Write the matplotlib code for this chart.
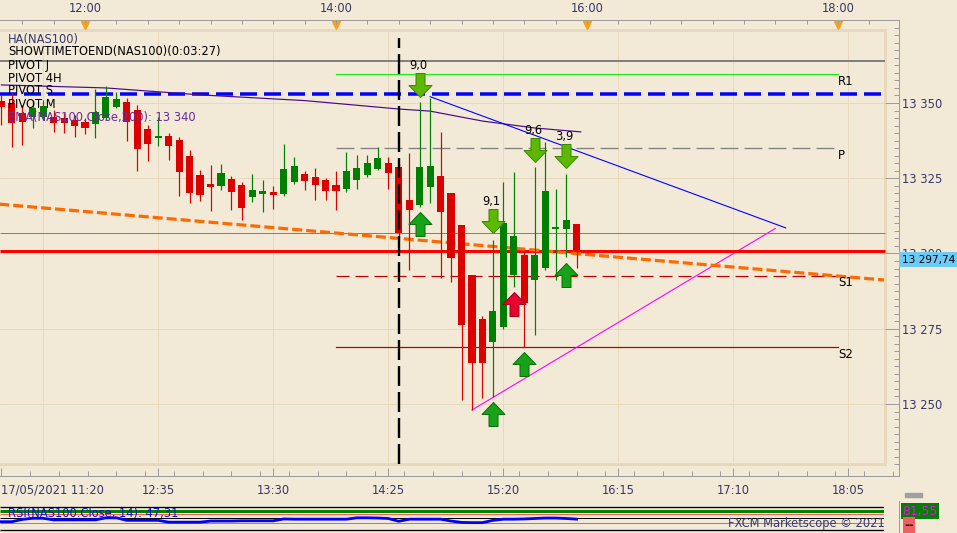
import numpy as np
import matplotlib.pyplot as plt
import matplotlib.transforms as mtransforms
from matplotlib.path import Path
from matplotlib.patches import Rectangle
from matplotlib.lines import Line2D

plt.rcParams['font.family'] = 'DejaVu Sans'
plt.rcParams['lines.scale_dashes'] = False

W, H, DPI = 957, 533, 100
BG = '#F2E9D6'
GRID = '#E8D8BC'
TXT = '#38386A'
FS = 8.3


def hm(s):
    h, m = s.split(':')
    return int(h) * 60 + int(m)


# ---- data (Heikin-Ashi 5 min bars, NAS100, 17/05/2021 from 11:20) ----
first_bar = '11:20'
ha_open = [13350.7, 13350.0, 13346.7, 13345.3, 13345.3, 13345.3, 13345.0, 13344.3, 13343.7, 13343.0,
           13345.0, 13348.7, 13350.3, 13347.7, 13341.3, 13338.4, 13339.0, 13337.7, 13332.4, 13326.1,
           13323.1, 13322.4, 13324.7, 13322.7, 13318.8, 13319.7, 13320.4, 13319.7, 13323.7, 13326.4,
           13325.4, 13324.4, 13322.7, 13321.4, 13324.4, 13326.1, 13328.1, 13330.0, 13328.7, 13317.8,
           13316.1, 13322.1, 13325.7, 13320.1, 13309.4, 13292.8, 13278.2, 13270.6, 13275.6, 13292.8,
           13299.5, 13291.2, 13295.2, 13308.1, 13308.1, 13309.8]
ha_close = [13348.7, 13343.3, 13343.7, 13348.3, 13349.0, 13343.3, 13343.3, 13342.3, 13341.7, 13347.0,
            13352.0, 13351.3, 13343.7, 13334.7, 13336.4, 13339.0, 13335.7, 13327.1, 13320.1, 13319.4,
            13322.1, 13326.7, 13320.4, 13315.1, 13321.1, 13320.7, 13319.4, 13328.1, 13329.1, 13324.1,
            13322.7, 13320.7, 13320.7, 13327.4, 13328.4, 13330.0, 13331.7, 13326.7, 13306.8, 13314.4,
            13328.7, 13329.1, 13313.8, 13298.5, 13276.2, 13263.6, 13263.6, 13280.9, 13310.1, 13305.8,
            13283.5, 13299.5, 13320.7, 13308.8, 13311.1, 13301.1]
ha_high = [13352.6, 13353.3, 13349.3, 13351.0, 13351.0, 13347.7, 13346.7, 13346.0, 13345.0, 13354.6,
           13355.6, 13353.6, 13351.6, 13349.3, 13342.7, 13345.3, 13340.0, 13338.7, 13334.4, 13327.7,
           13329.4, 13329.7, 13325.7, 13323.7, 13326.4, 13324.4, 13322.4, 13336.4, 13332.0, 13327.4,
           13328.4, 13325.1, 13327.4, 13333.7, 13332.7, 13332.7, 13335.4, 13332.0, 13330.0, 13333.4,
           13350.3, 13351.6, 13340.3, 13320.1, 13309.4, 13292.8, 13279.2, 13304.5, 13323.7, 13327.1,
           13301.1, 13328.7, 13337.0, 13321.4, 13326.4, 13309.8]
ha_low = [13342.7, 13335.4, 13336.0, 13341.7, 13344.3, 13340.3, 13340.0, 13338.7, 13339.7, 13338.4,
          13344.3, 13348.3, 13337.4, 13327.4, 13330.7, 13335.7, 13331.0, 13319.1, 13316.8, 13317.4,
          13314.1, 13321.1, 13314.4, 13311.1, 13317.1, 13313.8, 13314.8, 13319.1, 13323.1, 13321.1,
          13317.8, 13317.8, 13314.4, 13320.4, 13321.4, 13325.4, 13327.7, 13321.4, 13304.5, 13294.5,
          13315.4, 13316.8, 13291.8, 13290.5, 13251.3, 13248.0, 13252.0, 13252.3, 13275.0, 13288.9,
          13268.9, 13272.9, 13294.5, 13291.2, 13298.8, 13295.2]
rsi = [36, 36, 46, 51, 51, 44, 44, 44, 44, 44, 53, 53, 42, 42, 42, 42, 34, 34, 34, 34,
       39, 39, 39, 40, 40, 40, 40, 48, 47, 47, 47, 47, 47, 47, 53, 53, 52, 50, 38, 47,
       47, 47, 47, 39, 33, 32, 32, 42, 47, 47, 48, 50, 52, 52, 50, 47.31]

# EMA 200 sampled at some bars
ema_times = ['11:20', '12:00', '12:10', '12:55', '13:45', '14:30', '14:45', '15:10', '15:35', '15:57']
ema_vals = [13356.0, 13355.2, 13355.0, 13352.7, 13350.8, 13348.0, 13347.3, 13344.0, 13341.7, 13340.4]

# horizontal levels
level_gray_top = 13364.0
level_blue = 13353.0
level_gray_mid = 13306.9
level_red = 13300.8
pivots = {'R1': 13359.6, 'P': 13335.0, 'S1': 13292.6, 'S2': 13268.8}
pivot_span = ('14:00', '18:00')

# trend lines (time, price)
orange_line = (['11:19', '18:22'], [13316.4, 13291.2])
blue_line = (['14:45', '17:35'], [13352.1, 13308.5])
pink_line = (['15:05', '17:30'], [13248.0, 13308.3])
vline_time = '14:30'

# signal arrows
down_times = ['14:40', '15:35', '15:50', '15:15']
down_prices = [13352.0, 13330.4, 13328.4, 13306.8]
down_labels = ['9,0', '9,6', '3,9', '9,1']
up_times = ['14:40', '15:50', '15:30', '15:15']
up_prices = [13313.9, 13296.9, 13267.2, 13250.6]
red_up_times = ['15:25']
red_up_prices = [13287.1]

last_price = '13 297,74'
bottom_labels = ['11:20', '12:35', '13:30', '14:25', '15:20', '16:15', '17:10', '18:05']
top_labels = ['12:00', '14:00', '16:00', '18:00']
legend_lines = [('HA(NAS100)', TXT), ('SHOWTIMETOEND(NAS100)(0:03:27)', 'black'),
                ('PIVOT J', 'black'), ('PIVOT 4H', 'black'), ('PIVOT S', 'black'),
                ('PIVOT M', 'black'), ('EMA(NAS100.Close,200): 13 340', '#6A2C9E')]

# ---- layout helpers ----
X0, X1 = 679.36, 1109.16          # minutes at pixel x 0 and 899
Y0, Y1 = 13226.08, 13377.57       # price at pixel y 476 and 20
XIN = 1102.47                     # inner plot right edge
YIN0, YIN1 = 13230.07, 13374.25   # inner plot bottom/top
PX = 0.72                         # points per pixel


def rect(x0, y0, x1, y1):
    return [x0 / W, 1 - y1 / H, (x1 - x0) / W, (y1 - y0) / H]


def fx(x):
    return x / W


def fy(y):
    return 1 - y / H


times = hm(first_bar) + 5 * np.arange(len(ha_open))
o = np.array(ha_open); c = np.array(ha_close)
hi = np.array(ha_high); lo = np.array(ha_low)

fig = plt.figure(figsize=(W / DPI, H / DPI), dpi=DPI, facecolor=BG)
ax = fig.add_axes(rect(0, 20, 899, 476), facecolor=BG)
ax.set_xlim(X0, X1)
ax.set_ylim(Y0, Y1)

# grid
grid_t = [hm('11:40')] + [hm(t) for t in bottom_labels[1:]]
ax.vlines(grid_t, YIN0, YIN1, color=GRID, lw=1 * PX, zorder=0.5)
ax.hlines(np.arange(13250, 13351, 25), X0, XIN, color=GRID, lw=1 * PX, zorder=0.5)
ax.add_patch(Rectangle((X0 - 5, YIN0), XIN - X0 + 5, YIN1 - YIN0, fill=False,
                       ec='#E9D9BC', lw=3 * PX, zorder=0.6))

# horizontal levels
ax.hlines(level_gray_top, X0, XIN, color='#808080', lw=2 * PX, zorder=2)
ax.hlines(level_gray_mid, X0, XIN, color='#808080', lw=1 * PX, zorder=2)
ax.hlines(level_red, X0, XIN, color='#FF0000', lw=3 * PX, zorder=2.5)
ax.add_line(Line2D([X0, XIN], [level_blue] * 2, color='#0000FF', lw=3.5 * PX,
                   dashes=(17 * PX, 7 * PX), zorder=2))

p0, p1 = hm(pivot_span[0]), hm(pivot_span[1])
ax.add_line(Line2D([p0, p1], [pivots['R1']] * 2, color='#1EEB1E', lw=1.2 * PX, zorder=2))
ax.add_line(Line2D([p0, p1], [pivots['P']] * 2, color='#808080', lw=1.3 * PX,
                   dashes=(18 * PX, 6 * PX), zorder=2))
ax.add_line(Line2D([p0, p1], [pivots['S1']] * 2, color='#C00000', lw=1.2 * PX,
                   dashes=(13 * PX, 6 * PX), zorder=2))
ax.add_line(Line2D([p0, p1], [pivots['S2']] * 2, color='#B40000', lw=1.2 * PX, zorder=2))
for name, val in pivots.items():
    ax.annotate(name, (p1, val), xytext=(0, -5), textcoords='offset points',
                fontsize=8.5, color='black', ha='left', va='center')

# orange dashed line, EMA, trend lines
ax.add_line(Line2D([hm(t) for t in orange_line[0]], orange_line[1], color='#FF6A00',
                   lw=3.2 * PX, dashes=(10 * PX, 4 * PX), zorder=2.6))
ax.plot([hm(t) for t in ema_times], ema_vals, color='#4B0C8C', lw=1.2 * PX, zorder=2.4)
ax.plot([hm(t) for t in blue_line[0]], blue_line[1], color='#0000FF', lw=1.1 * PX, zorder=2.4)
ax.plot([hm(t) for t in pink_line[0]], pink_line[1], color='#FF00FF', lw=1.1 * PX, zorder=2.4)

# candles
col = np.where(c >= o, '#008000', '#DD0000')
ax.vlines(times, lo, hi, colors=col, lw=1.2 * PX, zorder=3)
ax.bar(times, np.maximum(np.abs(c - o), 0.6), bottom=np.minimum(o, c), width=3.4,
       color=col, linewidth=0, zorder=4)

# vertical dashed line
ax.add_line(Line2D([hm(vline_time)] * 2, [YIN0, 13371.6], color='black', lw=2.4 * PX,
                   dashes=(20 * PX, 6 * PX), zorder=5))

# arrows
arrow_down = Path([(-4.5, 24), (4.5, 24), (4.5, 12), (11.5, 12), (0, 0),
                   (-11.5, 12), (-4.5, 12), (-4.5, 24)], closed=True)
arrow_up = Path([(-4.5, -24), (4.5, -24), (4.5, -12), (11.5, -12), (0, 0),
                 (-11.5, -12), (-4.5, -12), (-4.5, -24)], closed=True)
ms = 2 * 24 * PX
ax.plot([hm(t) for t in down_times], down_prices, ls='none', marker=arrow_down, ms=ms,
        mfc='#5CB800', mec='#3A8A00', mew=1 * PX, zorder=6)
ax.plot([hm(t) for t in up_times], up_prices, ls='none', marker=arrow_up, ms=ms,
        mfc='#17A317', mec='#0B700B', mew=1 * PX, zorder=6)
ax.plot([hm(t) for t in red_up_times], red_up_prices, ls='none', marker=arrow_up, ms=ms,
        mfc='#E8002E', mec='#A8001E', mew=1 * PX, zorder=6)
for t, p, lab in zip(down_times, down_prices, down_labels):
    ax.annotate(lab, (hm(t), p), xytext=(-1, 22.5), textcoords='offset points',
                fontsize=FS, color='black', ha='center', va='center', zorder=7)

# axes frame / ticks
for s in ['top', 'right', 'bottom']:
    ax.spines[s].set_color('#9C9C9C')
    ax.spines[s].set_linewidth(1 * PX)
ax.spines['left'].set_visible(False)

ax.yaxis.tick_right()
ax.set_yticks(np.arange(13250, 13351, 25))
ax.set_yticks(np.arange(13230, 13377, 2.5), minor=True)
ax.set_yticklabels([f'{int(v):,}'.replace(',', ' ') for v in np.arange(13250, 13351, 25)])
ax.tick_params(axis='y', which='major', direction='in', length=14 * PX, width=1 * PX,
               color='#9C9C9C', labelsize=FS, labelcolor=TXT, pad=2.5)
ax.tick_params(axis='y', which='minor', direction='in', length=5 * PX, width=1 * PX,
               color='#9C9C9C')

bt = [hm(t) for t in bottom_labels]
ax.set_xticks(bt)
ax.set_xticklabels(['17/05/2021 ' + bottom_labels[0]] + bottom_labels[1:])
ax.set_xticks(np.arange(bt[0], X1, 13.75), minor=True)
ax.tick_params(axis='x', which='major', direction='in', length=8 * PX, width=1 * PX,
               color='#9C9C9C', labelsize=FS, labelcolor=TXT, pad=5.5)
ax.tick_params(axis='x', which='minor', direction='in', length=5 * PX, width=1 * PX,
               color='#9C9C9C')
ax.get_xticklabels()[0].set_ha('left')

axt = ax.twiny()
axt.set_xlim(X0, X1)
tt = [hm(t) for t in top_labels]
axt.set_xticks(tt)
axt.set_xticklabels(top_labels)
axt.set_xticks(np.arange(hm('11:30'), X1, 15), minor=True)
axt.tick_params(axis='x', which='both', direction='in', length=4 * PX, width=1 * PX,
                color='#9C9C9C', labelsize=FS, labelcolor=TXT, pad=3.5)
for s in axt.spines.values():
    s.set_visible(False)
tri_tr = mtransforms.blended_transform_factory(ax.transData, ax.transAxes)
ax.plot(tt, [1 - 4.5 / 456] * len(tt), ls='none', marker='v', ms=6, color='#F7A21B',
        transform=tri_tr, clip_on=False, zorder=8)

# legend text
for k, (txt, colr) in enumerate(legend_lines):
    fig.text(fx(8), fy(39 + 13 * k), txt, fontsize=FS, color=colr, va='center', ha='left',
             zorder=9)

# last price tag
fig.text(fx(901.5), fy(259.5), last_price, fontsize=7.6, color='black', va='center',
         ha='left', bbox=dict(boxstyle='square,pad=0.2', fc='#6CCBF7', ec='none'), zorder=10)

# ---- RSI panel ----
axr = fig.add_axes(rect(0, 501, 884, 533), facecolor=BG)
axr.set_xlim(X0, XIN - 0.5)
axr.set_ylim(-13.0, 126.0)
axr.axis('off')
axr.hlines([100, 0], X0, XIN, color='black', lw=1.3 * PX)
axr.hlines(50, X0, XIN, color='black', lw=1 * PX)
axr.hlines([70, 30], X0, XIN, color='#FF5A5A', lw=1 * PX)
axr.hlines(81.55, X0, XIN, color='#008000', lw=3 * PX)
axr.plot(times, rsi, color='#0000FF', lw=2.8 * PX, zorder=3)
fig.text(fx(8), fy(513), 'RSI(NAS100.Close, 14): 47,31', fontsize=FS, color='#1010D0',
         va='center', ha='left')
fig.text(fx(728), fy(524), 'FXCM Marketscope \u00a9 2021', fontsize=FS, color=TXT,
         va='center', ha='left')
fig.add_artist(Line2D([fx(899), fx(899)], [fy(501), fy(533)], color='#9C9C9C', lw=1 * PX))
fig.add_artist(Rectangle((fx(905), fy(497)), 17 / W, 4 / H, color='#A0A0A0'))
fig.text(fx(902), fy(511), '81,55', fontsize=FS + 0.5, color='#FF00FF', va='center',
         ha='left', bbox=dict(boxstyle='square,pad=0.12', fc='#008000', ec='none'))
fig.text(fx(904), fy(525), '--', fontsize=FS, color='#222222', va='center', ha='left',
         fontweight='bold', bbox=dict(boxstyle='square,pad=0.1', fc='#F06060', ec='none'))

fig.savefig('out.png', dpi=DPI, facecolor=BG)
